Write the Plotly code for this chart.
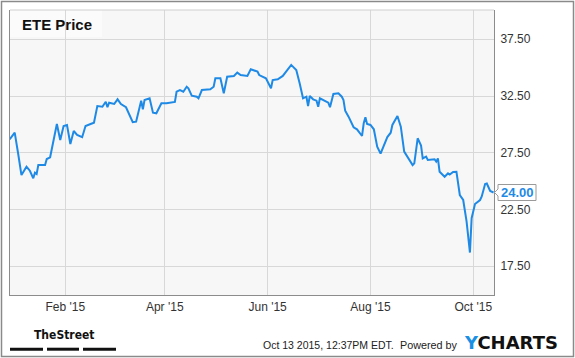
import plotly.graph_objects as go

# ---- data ----
dates = [
    "2014-12-30", "2015-01-02", "2015-01-04", "2015-01-06", "2015-01-09", "2015-01-11",
    "2015-01-13", "2015-01-14", "2015-01-15", "2015-01-16", "2015-01-20", "2015-01-21",
    "2015-01-23", "2015-01-27", "2015-01-29", "2015-01-31", "2015-02-02", "2015-02-04",
    "2015-02-06", "2015-02-08", "2015-02-11", "2015-02-13", "2015-02-16", "2015-02-18",
    "2015-02-20", "2015-02-23", "2015-02-25", "2015-02-26", "2015-02-27", "2015-03-02",
    "2015-03-04", "2015-03-06", "2015-03-09", "2015-03-11", "2015-03-13", "2015-03-15",
    "2015-03-18", "2015-03-19", "2015-03-20", "2015-03-23", "2015-03-25", "2015-03-27",
    "2015-03-30", "2015-04-02", "2015-04-07", "2015-04-08", "2015-04-10", "2015-04-12",
    "2015-04-14", "2015-04-15", "2015-04-17", "2015-04-20", "2015-04-21", "2015-04-23",
    "2015-04-28", "2015-04-30", "2015-05-01", "2015-05-04", "2015-05-06", "2015-05-08",
    "2015-05-12", "2015-05-14", "2015-05-16", "2015-05-20", "2015-05-22", "2015-05-26",
    "2015-05-27", "2015-05-31", "2015-06-02", "2015-06-03", "2015-06-04", "2015-06-07",
    "2015-06-10", "2015-06-12", "2015-06-14", "2015-06-15", "2015-06-16", "2015-06-18",
    "2015-06-20", "2015-06-22", "2015-06-24", "2015-06-25", "2015-06-26", "2015-06-28",
    "2015-06-30", "2015-07-01", "2015-07-02", "2015-07-04", "2015-07-07", "2015-07-08",
    "2015-07-10", "2015-07-13", "2015-07-15", "2015-07-16", "2015-07-17", "2015-07-19",
    "2015-07-22", "2015-07-24", "2015-07-27", "2015-07-28", "2015-07-29", "2015-07-30",
    "2015-08-01", "2015-08-03", "2015-08-05", "2015-08-07", "2015-08-09", "2015-08-11",
    "2015-08-13", "2015-08-14", "2015-08-17", "2015-08-19", "2015-08-21", "2015-08-23",
    "2015-08-26", "2015-08-27", "2015-08-29", "2015-08-31", "2015-09-01", "2015-09-03",
    "2015-09-04", "2015-09-08", "2015-09-09", "2015-09-10", "2015-09-11", "2015-09-14",
    "2015-09-16", "2015-09-17", "2015-09-19", "2015-09-21", "2015-09-22", "2015-09-23",
    "2015-09-25", "2015-09-27", "2015-09-29", "2015-09-30", "2015-10-02", "2015-10-05",
    "2015-10-06", "2015-10-08", "2015-10-09", "2015-10-11", "2015-10-13",
]
prices = [
    28.69, 29.27, 27.46, 25.54, 26.27, 25.92,
    25.25, 25.75, 25.63, 26.42, 26.42, 26.95,
    27.10, 30.04, 28.63, 29.86, 29.95, 28.27,
    29.42, 29.07, 28.87, 29.86, 30.04, 30.15,
    31.62, 31.56, 32.00, 31.51, 31.91, 31.80,
    32.21, 31.80, 31.51, 30.83, 30.19, 30.24,
    32.09, 31.33, 32.15, 32.30, 31.03, 30.98,
    31.86, 31.86, 31.98, 32.88, 33.03, 32.88,
    33.32, 33.18, 32.53, 32.44, 32.30, 33.03,
    33.09, 33.32, 34.06, 34.06, 32.74, 34.20,
    34.27, 34.56, 34.35, 34.27, 34.86, 34.65,
    34.35, 34.06, 33.39, 33.18, 33.91, 33.98,
    34.27, 34.65, 35.09, 35.24, 35.09, 34.79,
    33.62, 32.30, 32.44, 31.62, 32.50, 32.21,
    32.09, 31.56, 32.30, 32.15, 31.91, 31.51,
    32.68, 32.74, 32.44, 32.15, 31.21, 30.68,
    29.75, 29.57, 28.98, 30.10, 30.63, 30.04,
    29.95, 29.57, 28.04, 27.42, 28.10, 28.89,
    29.27, 29.95, 30.74, 29.80, 27.60, 27.09,
    26.42, 26.57, 28.78, 28.14, 27.01, 27.16,
    26.87, 26.93, 26.72, 27.01, 25.83, 25.39,
    25.69, 25.59, 25.81, 25.83, 24.57, 23.78,
    23.34, 21.46, 18.71, 21.74, 22.99, 23.34,
    23.65, 24.75, 24.79, 24.13, 24.00,
]
y_ticks = [17.5, 22.5, 27.5, 32.5, 37.5]
x_tick_dates = ["2015-02-01", "2015-04-01", "2015-06-01", "2015-08-01", "2015-10-01"]
x_tick_labels = ["Feb '15", "Apr '15", "Jun '15", "Aug '15", "Oct '15"]
last_value = prices[-1]
title_text = "ETE Price"

FONT = "Liberation Sans, Arial, sans-serif"
BLUE = "#1e8ae6"

fig = go.Figure()
fig.add_trace(go.Scatter(
    x=dates, y=prices, mode="lines",
    line=dict(color=BLUE, width=2), showlegend=False, hoverinfo="skip",
))

W, H = 575, 358
L, R, T, B = 10, 81, 10, 63
pw, ph = W - L - R, H - T - B

def px(x):
    return (x - L) / pw

def py(y):
    return (H - B - y) / ph

shapes = [
    # outer frame
    dict(type="rect", xref="paper", yref="paper", x0=px(1.5), x1=px(573.5),
         y0=py(356.5), y1=py(1.5), line=dict(color="#8a8a8a", width=1.5),
         fillcolor="rgba(0,0,0,0)", layer="below"),
    # title box
    dict(type="rect", xref="paper", yref="paper", x0=0, x1=px(102), y0=py(37), y1=1,
         line=dict(width=0), fillcolor="#fbfbfb", layer="below"),
    # top border (light)
    dict(type="line", xref="paper", yref="paper", x0=0, x1=1, y0=1, y1=1,
         line=dict(color="#cfcfcf", width=1)),
    # TheStreet bars
    dict(type="rect", xref="paper", yref="paper", x0=px(10), x1=px(43),
         y0=py(350.7), y1=py(347.7), line=dict(width=0), fillcolor="#111"),
    dict(type="rect", xref="paper", yref="paper", x0=px(47), x1=px(79),
         y0=py(350.7), y1=py(347.7), line=dict(width=0), fillcolor="#111"),
    dict(type="rect", xref="paper", yref="paper", x0=px(83), x1=px(116),
         y0=py(350.7), y1=py(347.7), line=dict(width=0), fillcolor="#111"),
    # last value label box with pointer
    dict(type="path", xref="paper", xsizemode="pixel", xanchor=1,
         yref="y", ysizemode="pixel", yanchor=last_value,
         path="M 0.5,0 L 4,3.5 L 4,8 L 42,8 L 42,-8 L 4,-8 L 4,-3.5 Z",
         fillcolor="white", line=dict(color="#9a9a9a", width=1)),
]

annotations = [
    dict(text="<b>" + title_text + "</b>", xref="paper", yref="paper", x=px(20), y=py(24),
         xanchor="left", yanchor="middle", showarrow=False,
         font=dict(family=FONT, size=15, color="#111")),
    dict(text="<b>%.2f</b>" % last_value, xref="paper", yref="y", x=1, y=last_value,
         xshift=23, xanchor="center", yanchor="middle", showarrow=False,
         font=dict(family=FONT, size=13, color=BLUE)),
    dict(text="<b>TheStreet</b>", xref="paper", yref="paper", x=px(64), y=py(335),
         xanchor="center", yanchor="middle", showarrow=False,
         font=dict(family="DejaVu Sans Condensed, Liberation Sans Narrow, sans-serif", size=12, color="#111")),
    dict(text="Oct 13 2015, 12:37PM EDT.", xref="paper", yref="paper", x=px(396), y=py(345),
         xanchor="right", yanchor="middle", showarrow=False,
         font=dict(family=FONT, size=10.5, color="#222")),
    dict(text="Powered by", xref="paper", yref="paper", x=px(460), y=py(345),
         xanchor="right", yanchor="middle", showarrow=False,
         font=dict(family=FONT, size=10.8, color="#222")),
    dict(text="<b><span style='color:#1a8fe3'>Y</span>CHARTS</b>", xref="paper", yref="paper",
         x=px(462), y=py(342), xanchor="left", yanchor="middle", showarrow=False,
         font=dict(family="DejaVu Sans, sans-serif", size=18, color="#111")),
]

fig.update_layout(
    width=W, height=H, autosize=False,
    margin=dict(l=L, r=R, t=T, b=B, pad=0),
    paper_bgcolor="white", plot_bgcolor="#f7f7f7",
    shapes=shapes, annotations=annotations,
    xaxis=dict(
        type="date", range=["2014-12-30 04:48", "2015-10-13 06:30"],
        tickvals=x_tick_dates, ticktext=x_tick_labels,
        showgrid=True, gridcolor="#d8d8d8", gridwidth=1,
        showline=True, linecolor="#8c8c8c", linewidth=1,
        ticks="outside", ticklen=1, tickcolor="rgba(0,0,0,0)",
        tickfont=dict(family=FONT, size=12, color="#333"), zeroline=False,
        fixedrange=True,
    ),
    yaxis=dict(
        side="right", range=[14.97, 40.08],
        tickvals=y_ticks, ticktext=["%.2f" % v for v in y_ticks],
        showgrid=True, gridcolor="#d8d8d8", gridwidth=1,
        showline=True, linecolor="#8c8c8c", linewidth=1, mirror=True,
        ticks="outside", ticklen=3, tickcolor="rgba(0,0,0,0)",
        tickfont=dict(family=FONT, size=12, color="#333"), zeroline=False,
        fixedrange=True,
    ),
)

fig.write_html("out.html", config={"displayModeBar": False})
